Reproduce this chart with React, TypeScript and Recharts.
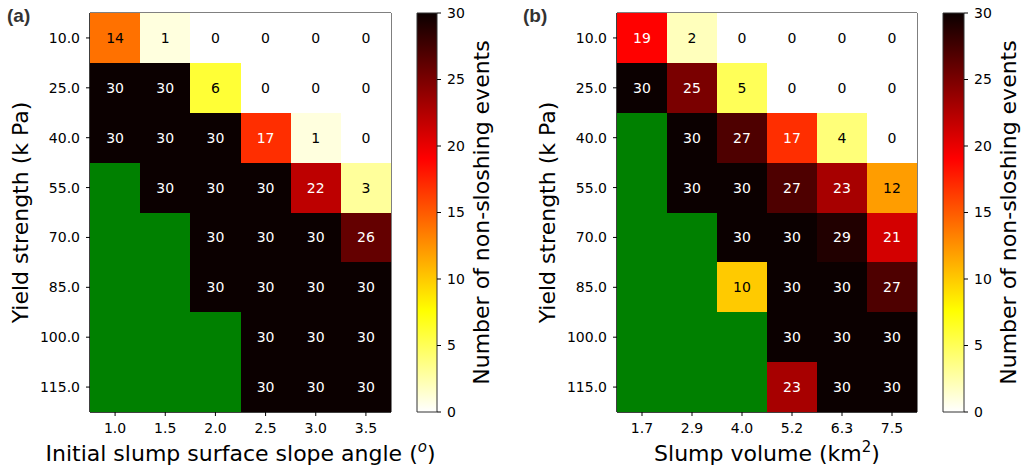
import React from 'react';
import { ScatterChart, Scatter, XAxis, YAxis, ReferenceArea, ComposedChart, Bar } from 'recharts';

const yLabels = ['10.0', '25.0', '40.0', '55.0', '70.0', '85.0', '100.0', '115.0'];
const xLabelsA = ['1.0', '1.5', '2.0', '2.5', '3.0', '3.5'];
const xLabelsB = ['1.7', '2.9', '4.0', '5.2', '6.3', '7.5'];

const countsA: (number | null)[][] = [
  [14, 1, 0, 0, 0, 0],
  [30, 30, 6, 0, 0, 0],
  [30, 30, 30, 17, 1, 0],
  [null, 30, 30, 30, 22, 3],
  [null, null, 30, 30, 30, 26],
  [null, null, 30, 30, 30, 30],
  [null, null, null, 30, 30, 30],
  [null, null, null, 30, 30, 30],
];

const countsB: (number | null)[][] = [
  [19, 2, 0, 0, 0, 0],
  [30, 25, 5, 0, 0, 0],
  [null, 30, 27, 17, 4, 0],
  [null, 30, 30, 27, 23, 12],
  [null, null, 30, 30, 29, 21],
  [null, null, 10, 30, 30, 27],
  [null, null, null, 30, 30, 30],
  [null, null, null, 23, 30, 30],
];

const colorbarTicks = [0, 5, 10, 15, 20, 25, 30];
const VMAX = 30;

const FONT = '"DejaVu Sans", sans-serif';
const MISSING = '#008000';

const CHART_H = 468;
const M_TOP = 13;
const M_BOTTOM = 26;
const X_AXIS_H = 30;
const Y_AXIS_W = 60;
const M_LEFT = 30;
const PLOT_W = 301;
const EXTRA_RIGHT = 80;
const PLOT_H = CHART_H - M_TOP - M_BOTTOM - X_AXIS_H;

function hotR(v: number): string {
  const s = 1 - v / VMAX;
  const k1 = 0.365079;
  const k2 = 0.746032;
  const r = s < k1 ? 0.0416 + (1 - 0.0416) * (s / k1) : 1;
  const g = s < k1 ? 0 : s < k2 ? (s - k1) / (k2 - k1) : 1;
  const b = s < k2 ? 0 : (s - k2) / (1 - k2);
  const h = (x: number) => Math.round(Math.max(0, Math.min(1, x)) * 255).toString(16).padStart(2, '0');
  return '#' + h(r) + h(g) + h(b);
}

type Cell = { x: number; y: number; v: number | null };

function toCells(counts: (number | null)[][]): Cell[] {
  return counts.flatMap((row, r) => row.map((v, c) => ({ x: c, y: r, v })));
}

function Heatmap(props: {
  left: number;
  plotW: number;
  counts: (number | null)[][];
  xLabels: string[];
  xTitle: React.ReactNode;
}) {
  const { left, plotW, counts, xLabels, xTitle } = props;
  const nCols = xLabels.length;
  const nRows = yLabels.length;
  const chartW = M_LEFT + Y_AXIS_W + plotW + EXTRA_RIGHT;
  const cellW = plotW / nCols;
  const cellH = PLOT_H / nRows;
  const data = toCells(counts);

  const shape = (p: any) => {
    const { cx, cy, payload } = p;
    const v = payload.v as number | null;
    const fill = v == null ? MISSING : hotR(v);
    return (
      <g>
        <rect
          x={cx - cellW / 2}
          y={cy - cellH / 2}
          width={cellW}
          height={cellH}
          fill={fill}
          shapeRendering="crispEdges"
        />
        {v != null && (
          <text
            x={cx}
            y={cy}
            textAnchor="middle"
            dominantBaseline="central"
            fontFamily={FONT}
            fontSize={14}
            fill={v > 15 ? '#ffffff' : '#000000'}
          >
            {v}
          </text>
        )}
      </g>
    );
  };

  return (
    <div style={{ position: 'absolute', left, top: 0 }}>
      <ScatterChart
        width={chartW}
        height={CHART_H}
        margin={{ top: M_TOP, right: EXTRA_RIGHT, bottom: M_BOTTOM, left: M_LEFT }}
      >
        <XAxis
          type="number"
          dataKey="x"
          domain={[-0.5, nCols - 0.5]}
          ticks={xLabels.map((_, i) => i)}
          tickFormatter={(i: number) => xLabels[i]}
          height={X_AXIS_H}
          tickSize={4}
          tickMargin={7}
          axisLine={{ stroke: '#000' }}
          tickLine={{ stroke: '#000' }}
          tick={{ fill: '#000', fontSize: 14, fontFamily: FONT }}
          interval={0}
          allowDataOverflow
          label={{
            content: ({ viewBox }: any) => (
              <text
                x={viewBox.x + viewBox.width / 2}
                y={viewBox.y + 49}
                textAnchor="middle"
                fontFamily={FONT}
                fontSize={22}
                fill="#000"
              >
                {xTitle}
              </text>
            ),
          }}
        />
        <YAxis
          type="number"
          dataKey="y"
          domain={[-0.5, nRows - 0.5]}
          reversed
          ticks={yLabels.map((_, i) => i)}
          tickFormatter={(i: number) => yLabels[i]}
          width={Y_AXIS_W}
          tickSize={4}
          tickMargin={6}
          axisLine={{ stroke: '#000' }}
          tickLine={{ stroke: '#000' }}
          tick={{ fill: '#000', fontSize: 14, fontFamily: FONT }}
          interval={0}
          allowDataOverflow
          label={{
            content: ({ viewBox }: any) => {
              const x = viewBox.x + viewBox.width - 62;
              const y = viewBox.y + viewBox.height / 2;
              return (
                <text
                  x={x}
                  y={y}
                  transform={`rotate(-90, ${x}, ${y})`}
                  textAnchor="middle"
                  fontFamily={FONT}
                  fontSize={22}
                  fill="#000"
                >
                  Yield strength (k Pa)
                </text>
              );
            },
          }}
        />
        <Scatter data={data} shape={shape} isAnimationActive={false} />
        <ReferenceArea
          x1={-0.5}
          x2={nCols - 0.5}
          y1={-0.5}
          y2={nRows - 0.5}
          fill="none"
          fillOpacity={0}
          stroke="#000"
          strokeWidth={1}
          ifOverflow="visible"
        />
      </ScatterChart>
    </div>
  );
}

function Colorbar(props: { left: number; id: string; barW: number }) {
  const { left, id, barW } = props;
  const barData = [{ name: 'cb', v: VMAX }];
  const k1 = 0.365079;
  const k2 = 0.746032;
  return (
    <div style={{ position: 'absolute', left, top: 0 }}>
      <ComposedChart
        width={17 + barW + 60}
        height={CHART_H}
        data={barData}
        margin={{ top: M_TOP, right: 0, bottom: CHART_H - M_TOP - PLOT_H, left: 17 }}
        barCategoryGap={0}
      >
        <defs>
          <linearGradient id={id} x1="0" y1="0" x2="0" y2="1">
            <stop offset="0" stopColor={hotR(VMAX)} />
            <stop offset={k1} stopColor={hotR(VMAX * (1 - k1))} />
            <stop offset={k2} stopColor={hotR(VMAX * (1 - k2))} />
            <stop offset="1" stopColor={hotR(0)} />
          </linearGradient>
        </defs>
        <XAxis dataKey="name" type="category" hide />
        <YAxis
          orientation="right"
          type="number"
          domain={[0, VMAX]}
          ticks={colorbarTicks}
          width={60}
          tickSize={4}
          tickMargin={6}
          axisLine={false}
          tickLine={{ stroke: '#000' }}
          tick={{ fill: '#000', fontSize: 14, fontFamily: FONT, textAnchor: 'start' }}
          interval={0}
          label={{
            content: ({ viewBox }: any) => {
              const x = viewBox.x + 52;
              const y = viewBox.y + viewBox.height / 2;
              return (
                <text
                  x={x}
                  y={y}
                  transform={`rotate(-90, ${x}, ${y})`}
                  textAnchor="middle"
                  fontFamily={FONT}
                  fontSize={22}
                  fill="#000"
                >
                  Number of non-sloshing events
                </text>
              );
            },
          }}
        />
        <Bar dataKey="v" fill={`url(#${id})`} stroke="#333" strokeWidth={1} isAnimationActive={false} />
      </ComposedChart>
    </div>
  );
}

const titleA = (
  <>
    Initial slump surface slope angle (
    <tspan dy={-9} fontSize={15} fontStyle="italic">o</tspan>
    <tspan dy={9}>)</tspan>
  </>
);

const titleB = (
  <>
    Slump volume (km
    <tspan dy={-9} fontSize={15}>2</tspan>
    <tspan dy={9}>)</tspan>
  </>
);

const panelLetterStyle: React.CSSProperties = {
  position: 'absolute',
  top: 4,
  fontFamily: '"Liberation Sans", Arial, sans-serif',
  fontWeight: 'bold',
  fontSize: 19,
  color: '#333',
  lineHeight: '24px',
};

export default function App() {
  return (
    <div style={{ position: 'absolute', left: 0, top: 0, width: 1028, height: 468, background: '#fff', overflow: 'hidden' }}>
      <Heatmap left={0} plotW={PLOT_W} counts={countsA} xLabels={xLabelsA} xTitle={titleA} />
      <Colorbar left={400} id="hotrA" barW={20} />
      <Heatmap left={527} plotW={300} counts={countsB} xLabels={xLabelsB} xTitle={titleB} />
      <Colorbar left={926} id="hotrB" barW={21} />
      <div style={{ ...panelLetterStyle, left: 7 }}>(a)</div>
      <div style={{ ...panelLetterStyle, left: 523 }}>(b)</div>
    </div>
  );
}
